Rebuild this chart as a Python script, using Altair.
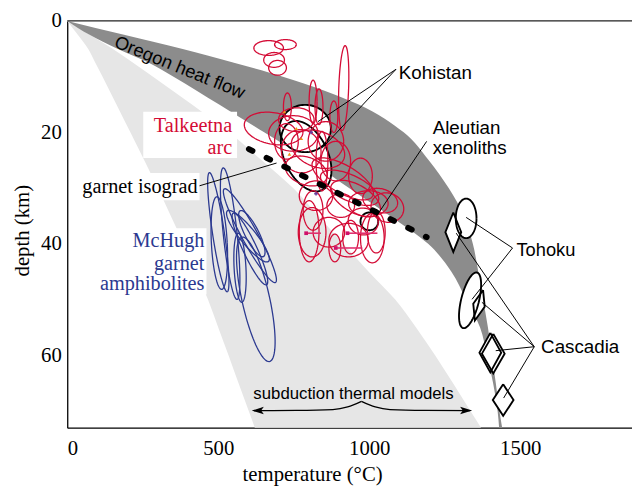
import numpy as np
import pandas as pd
import altair as alt

# ---------------- data (temperature in °C, depth in km) ----------------
X_MAX = 1870.0
Y_MAX = 73.0
W, H = 572, 412
SX = W / X_MAX
SY = H / Y_MAX

band_depth = [0, 2.5, 5, 7.5, 10, 15, 20, 25, 30, 35, 40, 45, 50, 55, 60, 65, 70, 73]
oregon_hot = [0, 188, 379, 552, 714, 965, 1114, 1197, 1263, 1314, 1343, 1361, 1377, 1393, 1406, 1419, 1431, 1440]
oregon_cool = [0, 74, 166, 270, 352, 503, 652, 801, 933, 1069, 1195, 1272, 1321, 1367, 1390, 1410, 1425, 1430]
model_cold = [0, 35, 69, 93, 117, 163, 209, 255, 300, 343, 386, 427, 466, 500, 534, 567, 601, 621]
model_hot = [0, 75, 150, 218, 284, 413, 536, 644, 748, 832, 914, 998, 1086, 1155, 1218, 1277, 1335, 1370]

# ellipses: (T centre, depth centre, half-width °C, half-height km, tilt deg)
talkeetna = [
    (666.9, 4.87, 49.0, 1.33, 0), (722.5, 4.25, 36.0, 0.89, 0), (684.9, 7.00, 34.3, 1.33, 0),
    (696.3, 8.42, 29.4, 1.33, 0), (915.4, 12.05, 16.3, 7.62, 2), (683.3, 19.31, 98.1, 2.83, 10),
    (748.6, 20.20, 81.7, 3.19, 0), (830.4, 23.03, 91.5, 3.19, 20), (912.1, 28.35, 114.4, 2.48, 30),
    (935.0, 29.94, 104.6, 2.30, 25), (954.6, 31.89, 91.5, 2.48, 30), (823.8, 31.36, 55.6, 2.66, 0),
    (810.8, 37.92, 45.8, 4.43, 0), (866.3, 37.92, 52.3, 2.66, 0), (931.7, 39.33, 65.4, 3.01, 0),
    (938.3, 38.80, 26.2, 3.01, 0), (1023.3, 37.92, 29.4, 3.72, 0), (997.1, 32.78, 65.4, 2.30, 0),
    (814.0, 34.02, 32.7, 3.54, 0), (729.0, 15.41, 13.1, 2.48, 0), (814.0, 14.53, 13.1, 3.90, 0),
    (833.6, 15.41, 13.1, 3.19, 0), (882.7, 17.19, 13.1, 2.83, 0), (856.5, 21.62, 58.8, 3.54, 0),
    (774.8, 23.39, 65.4, 3.90, -10), (889.2, 25.16, 49.0, 3.54, 0), (758.5, 17.72, 58.8, 2.13, 0),
    (971.0, 27.82, 39.2, 3.19, 0), (905.6, 33.13, 45.8, 2.13, 0), (801.0, 37.74, 32.7, 5.49, 0),
    (886.0, 40.75, 19.6, 2.48, 0), (1010.2, 38.98, 39.2, 4.43, 0), (1036.3, 32.25, 58.8, 2.13, 15),
    (843.5, 25.16, 19.6, 5.32, 0), (791.1, 26.93, 71.9, 2.48, 20), (725.8, 21.62, 39.2, 3.19, 0),
    (1060.0, 33.5, 55.0, 2.6, 20), (980.0, 36.0, 50.0, 2.4, 10),
]
mchugh = [
    (500.2, 37.92, 19.6, 10.81, -8.5), (539.4, 38.18, 22.9, 11.87, -6), (503.5, 39.87, 26.2, 8.33, -3),
    (604.8, 38.54, 26.2, 9.57, -28.7), (598.3, 38.63, 26.2, 5.85, -39), (604.8, 40.93, 22.9, 7.09, -25),
    (572.1, 44.30, 19.6, 6.20, -3), (624.4, 49.96, 45.8, 11.43, -12.5), (611.3, 38.18, 22.9, 4.61, -27),
]
black_ellipses = [
    (791.1, 24.27, 71.9, 6.73, -25),   # Kohistan
    (787.9, 19.31, 85.0, 4.25, 0),     # Kohistan
    (1000.4, 35.97, 29.4, 1.59, 0),    # Aleutian
    (1320.8, 35.44, 34.3, 3.54, 0),    # Tohoku
    (1333.8, 50.14, 29.4, 5.14, 14),   # Tohoku
]
# Cascadia diamonds: (T, depth, half-width °C, half-height km, tilt)
cascadia = [
    (1278.3, 37.92, 26.2, 3.54, 0), (1363.3, 51.03, 19.6, 2.83, 15),
    (1410.7, 59.71, 37.6, 3.54, 0), (1400.9, 59.53, 36.0, 3.54, 0),
    (1443.4, 68.04, 34.3, 2.83, 0),
]
# garnet isograd
isograd_T = [601.5, 1190.0]
isograd_d = [23.0, 38.8]
# error-bar crosses
cross_T0 = [791, 928, 889]
cross_T1 = [840, 1027, 977]
cross_d = [38.1, 38.1, 40.75]
orange_T = [719.2, 758.5, 775.0, 735.6]
orange_d = [16.30, 19.31, 21.1, 23.92]
purple_T = [823.8, 807.5]
purple_d = [31.0, 20.0]

# leader lines (T0, d0, T1, d1)
leaders = [
    (1088.6, 8.68, 830.4, 18.07), (1088.6, 8.68, 843.5, 22.86),
    (1190.0, 21.62, 1023.3, 35.08),
    (1474.4, 40.75, 1320.8, 35.26), (1474.4, 40.75, 1340.4, 49.96),
    (1546.3, 58.47, 1288.0, 38.09), (1546.3, 58.47, 1373.0, 50.5),
    (1546.3, 58.47, 1418.8, 59.18), (1546.3, 58.47, 1445.0, 67.68),
    (438.0, 29.59, 693.0, 25.51),
]
brace_left_T = [618, 758.5, 879.4, 928.5, 974.2]
brace_left_d = [69.93, 69.9, 69.75, 69.28, 68.27]
brace_right_T = [974.2, 1020, 1069, 1183.5, 1334]
brace_right_d = [68.27, 69.28, 69.75, 69.9, 69.93]
arrow_T = [631, 1320.8]
arrow_d = [69.93, 69.93]
arrow_ang = [180, 0]

sans_text = ["Kohistan", "Aleutian", "xenoliths", "Tohoku", "Cascadia"]
sans_T = [1098, 1210, 1210, 1487.5, 1569]
sans_d = [10.45, 20.38, 23.86, 42.11, 59.53]
sans_size = [19, 19, 19, 18.5, 19]

serif_text = ["Talkeetna", "arc", "garnet isograd", "McHugh", "garnet", "amphibolites"]
serif_T = [546, 546, 431.5, 454.4, 454.4, 454.4]
serif_d = [19.97, 23.80, 30.83, 40.57, 44.65, 48.25]
serif_col = ["#d40b35", "#d40b35", "#000000", "#2b3990", "#2b3990", "#2b3990"]

# white label boxes (T0, T1, d0, d1)
label_boxes = [
    (251.7, 562.3, 16.3, 24.6),
    (16.3, 438.0, 27.3, 32.2),
    (78.5, 461.0, 37.2, 49.1),
]

RED = "#d40b35"
BLUE = "#2b3990"


# ---------------- geometry helpers ----------------
def ellipse_pts(cx, cy, rx, ry, ang, n=90):
    t = np.linspace(0, 2 * np.pi, n + 1)
    u = rx * SX * np.cos(t)
    v = ry * SY * np.sin(t)
    a = np.radians(ang)
    X = u * np.cos(a) - v * np.sin(a)
    Y = u * np.sin(a) + v * np.cos(a)
    return cx + X / SX, cy + Y / SY


def diamond_pts(cx, cy, hw, hh, ang):
    u = np.array([0, hw * SX, 0, -hw * SX, 0])
    v = np.array([-hh * SY, 0, hh * SY, 0, -hh * SY])
    a = np.radians(ang)
    X = u * np.cos(a) - v * np.sin(a)
    Y = u * np.sin(a) + v * np.cos(a)
    return cx + X / SX, cy + Y / SY


def shapes_df(specs, fn):
    rows = []
    for k, s in enumerate(specs):
        T, d = fn(*s)
        for i, (a, b) in enumerate(zip(T, d)):
            rows.append({"id": k, "i": i, "T": a, "d": b})
    return pd.DataFrame(rows)


SERIF = "Liberation Serif"
SANS = "Liberation Sans"

xs = alt.Scale(domain=[0, X_MAX], nice=False, zero=False)
ys = alt.Scale(domain=[0, Y_MAX], reverse=True, nice=False, zero=False)

X_AX = alt.Axis(
    values=[0, 500, 1000, 1500], format="d", ticks=False, grid=False, domainColor="#000",
    domainWidth=1.3, labelFont=SERIF, labelFontSize=21, labelColor="#000", labelPadding=10,
    title="temperature (°C)", titleFont=SERIF, titleFontSize=21, titleFontWeight="normal",
    titleColor="#000", titleX=248, titleY=53, titleAlign="center", titleBaseline="alphabetic")
Y_AX = alt.Axis(
    values=[0, 20, 40, 60], format="d", ticks=False, grid=False, domainColor="#000",
    domainWidth=1.3, labelFont=SERIF, labelFontSize=21, labelColor="#000", labelPadding=6,
    title="depth (km)", titleFont=SERIF, titleFontSize=21, titleFontWeight="normal",
    titleColor="#000", titleX=-39, titleY=212, titleAngle=270, titleAlign="center",
    titleBaseline="alphabetic")


def X(f="T:Q"):
    return alt.X(f, scale=xs, axis=X_AX, title="temperature (°C)")


def Y(f="d:Q"):
    return alt.Y(f, scale=ys, axis=Y_AX, title="depth (km)")


def xy(xf="T:Q", yf="d:Q"):
    return dict(x=X(xf), y=Y(yf))


bands = pd.DataFrame({"d": band_depth, "oh": oregon_hot, "oc": oregon_cool,
                      "mc": model_cold, "mh": model_hot})

light = alt.Chart(bands).mark_area(orient="horizontal", color="#e6e6e6",
                                   interpolate="monotone").encode(
    y=Y("d:Q"), x=X("mc:Q"), x2="mh:Q")
dark = alt.Chart(bands).mark_area(orient="horizontal", color="#8c8c8c",
                                  interpolate="monotone").encode(
    y=Y("d:Q"), x=X("oc:Q"), x2="oh:Q")

red_df = shapes_df(talkeetna, ellipse_pts)
blue_df = shapes_df(mchugh, ellipse_pts)
blk_df = shapes_df(black_ellipses, ellipse_pts)
dia_df = shapes_df(cascadia, diamond_pts)


def outline(df, color, width, fill=None):
    kw = dict(color=color, strokeWidth=width)
    if fill is not None:
        kw = dict(fill=fill, stroke=fill, strokeWidth=0.01)
    return alt.Chart(df).mark_line(**kw).encode(
        detail="id:N", order="i:Q", **xy())


blk_fill = outline(blk_df, None, 0, fill="white")
dia_fill = outline(dia_df, None, 0, fill="white")
blk_line = outline(blk_df, "#000", 1.9)
dia_line = outline(dia_df, "#000", 1.9)
blue_line = outline(blue_df, BLUE, 1.3)
red_line = outline(red_df, RED, 1.3)

iso = alt.Chart(pd.DataFrame({"T": isograd_T, "d": isograd_d})).mark_line(
    color="#000", strokeWidth=6, strokeDash=[4, 16], strokeCap="round").encode(**xy())

cross = alt.Chart(pd.DataFrame({"T": cross_T0, "T2": cross_T1, "d": cross_d})).mark_rule(
    color="#e0306e", strokeWidth=1.6).encode(x2="T2:Q", **xy())
cross_end = alt.Chart(pd.DataFrame({"T": cross_T0, "d": cross_d})).mark_point(
    shape="square", size=14, filled=True, color="#d0106a", opacity=1).encode(**xy())
orange = alt.Chart(pd.DataFrame({"T": orange_T, "d": orange_d})).mark_point(
    shape="triangle-up", size=14, filled=True, color="#f0901e", opacity=1).encode(**xy())
purple = alt.Chart(pd.DataFrame({"T": purple_T, "d": purple_d})).mark_point(
    shape="cross", size=14, filled=True, color="#6a3d9a", opacity=1).encode(**xy())

lead_df = pd.DataFrame(leaders, columns=["T", "d", "T2", "d2"])
lead = alt.Chart(lead_df).mark_rule(color="#000", strokeWidth=1.0).encode(
    x2="T2:Q", y2="d2:Q", **xy())

brace_df = pd.DataFrame({
    "side": ["l"] * len(brace_left_T) + ["r"] * len(brace_right_T),
    "T": brace_left_T + brace_right_T, "d": brace_left_d + brace_right_d})
brace = alt.Chart(brace_df).mark_line(color="#000", strokeWidth=1.3, interpolate="monotone").encode(
    detail="side:N", **xy())
ARROW = "M1,0L-1,-0.62L-0.55,0L-1,0.62Z"
arrows = alt.Chart(pd.DataFrame({"T": arrow_T, "d": arrow_d, "a": arrow_ang})).mark_point(
    shape=ARROW, size=150, filled=True, color="#000", opacity=1, strokeWidth=0).encode(
    angle=alt.Angle("a:Q", scale=None), **xy())

box_df = pd.DataFrame(label_boxes, columns=["T", "T2", "d", "d2"])
boxes = alt.Chart(box_df).mark_rect(color="white").encode(x2="T2:Q", y2="d2:Q", **xy())

sans_df = pd.DataFrame({"t": sans_text, "T": sans_T, "d": sans_d, "s": sans_size})
sans = alt.Chart(sans_df).mark_text(font=SANS, align="left", baseline="alphabetic",
                                    color="#000").encode(
    text="t:N", size=alt.Size("s:Q", scale=None), **xy())
sub_txt = alt.Chart(pd.DataFrame({"t": ["subduction thermal models"], "T": [948], "d": [67.86]})).mark_text(
    font=SANS, fontSize=17, align="center", baseline="alphabetic", color="#000").encode(
    text="t:N", **xy())
oregon = alt.Chart(pd.DataFrame({"t": ["Oregon heat flow"], "T": [372.7], "d": [8.33]})).mark_text(
    font=SANS, fontSize=18.5, align="center", baseline="middle", angle=22, color="#000").encode(
    text="t:N", **xy())

serif_df = pd.DataFrame({"t": serif_text, "T": serif_T, "d": serif_d, "c": serif_col})
serif = alt.Chart(serif_df).mark_text(font=SERIF, fontSize=20.5, align="right",
                                      baseline="alphabetic").encode(
    text="t:N", color=alt.Color("c:N", scale=None), **xy())

top = alt.Chart(pd.DataFrame({"d": [0]})).mark_rule(color="#222", strokeWidth=1.3).encode(
    y=Y("d:Q"))

chart = alt.layer(
    light, dark, blk_fill, dia_fill, blue_line, blk_line, red_line, dia_line,
    cross, cross_end, orange, purple, iso, boxes, lead, brace, arrows,
    serif, sans, sub_txt, oregon, top,
).properties(
    width=W, height=H,
    autosize=alt.AutoSizeParams(type="none"),
    padding={"left": 60, "top": 10, "right": 0, "bottom": 57},
).configure_view(stroke=None).configure_axis(grid=False)

chart.save("out.html", embed_options={"renderer": "svg", "actions": False})
